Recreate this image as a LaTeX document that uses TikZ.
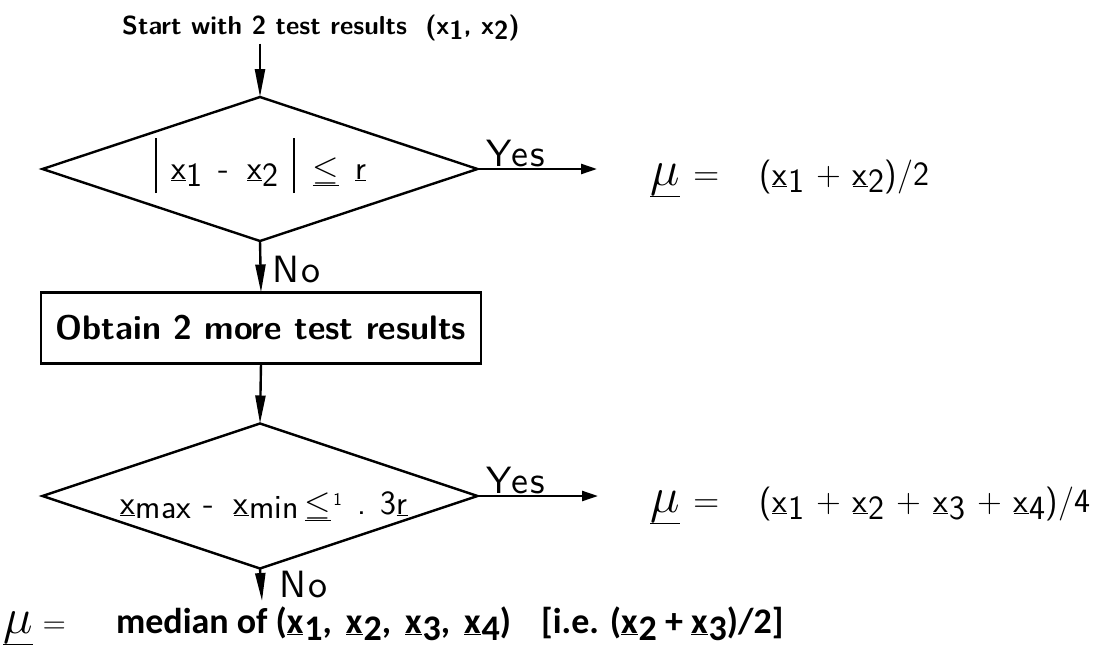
\RequirePackage{fix-cm}
\documentclass[tikz,border=0pt]{standalone}
\usepackage{fontspec}
\newfontfamily\carl{Carlito}
\newfontfamily\yesfam{lmsans10-regular.otf}[LetterSpace=6]
\usetikzlibrary{arrows.meta,shapes.geometric}
\newcommand\thinfont{\fontsize{34}{38}\selectfont\sffamily}
\newcommand\yesfont{\fontsize{38}{42}\selectfont\yesfam}
\newcommand\titlefont{\fontsize{26}{30}\selectfont\sffamily\bfseries}
\newcommand\boxfont{\fontsize{34}{40}\selectfont\sffamily\bfseries}
\newcommand\botfont{\fontsize{36}{40}\selectfont\carl\bfseries}
\newcommand\ux[1]{\underline{x}\kern1pt\raisebox{-7pt}{#1}}
\newcommand\vbar{\raisebox{-14pt}{\rule{1.8pt}{55pt}}}
\newcommand\umu{{\fontsize{50}{54}\selectfont$\underline{\mu}$}}
\newcommand\beq{{\fontsize{36}{40}\selectfont=}}
\newcommand\pl{\hspace{12pt}+\hspace{12pt}}
\begin{document}
\begin{tikzpicture}[x=1pt,y=-1pt,
  base/.style={line width=2.4pt},
  arr/.style={base,-{Triangle[length=28pt,width=10pt]}},
  yarr/.style={base,-{Triangle[length=16pt,width=10pt]}},
  dec/.style={diamond,draw,base,minimum width=435pt,minimum height=144pt,inner sep=0pt,outer sep=0pt},
  lbl/.style={font=\yesfont,inner sep=1pt},
  txt/.style={font=\thinfont,inner sep=0pt}]
\useasboundingbox (0,0) rectangle (1095,651);
\node[anchor=base west,font=\titlefont,inner sep=3pt] (title) at (119,34)
  {Start with 2 test results\hspace{0.7em}(x\raisebox{-5pt}{1}, x\raisebox{-5pt}{2})};
\node[dec] (d1) at (260,169) {};
\node[txt,anchor=base west] (t1) at (155,179)
  {\vbar\hspace{14pt}\ux{1}\hspace{16pt}-\hspace{18pt}\ux{2}\hspace{14pt}\vbar\hspace{18pt}$\underline{\leq}$\hspace{16pt}\underline{r}};
\node[draw,base,minimum width=440pt,minimum height=71pt,font=\boxfont,outer sep=0pt] (box) at (261,328) {Obtain 2 more test results};
\node[dec,minimum height=145pt] (d2) at (260,496) {};
\node[txt,anchor=base west] (t2) at (120,514)
  {\underline{x}\kern1pt\raisebox{-4pt}{max}\hspace{12pt}-\hspace{20pt}\underline{x}\kern1pt\raisebox{-4pt}{min}\hspace{6pt}$\underline{\leq}$\hspace{2pt}\raisebox{9pt}{\fontsize{18}{18}\selectfont 1}\hspace{16pt}.\hspace{14pt}3\underline{r}};
\coordinate (y1) at (597,169);
\coordinate (y2) at (598,496);
\coordinate (n2) at (262,601);
\node[txt,anchor=base west] (r1) at (650,185)
  {\umu\hspace{14pt}\beq\hspace{40pt}(\ux{1}\pl\ux{2})/2};
\node[txt,anchor=base west] (r2) at (650,512)
  {\umu\hspace{14pt}\beq\hspace{40pt}(\ux{1}\pl\ux{2}\pl\ux{3}\pl\ux{4})/4};
\node[anchor=base west,inner sep=0pt] (r3) at (3,633)
  {{\thinfont\umu\hspace{10pt}{\fontsize{32}{36}\selectfont=}}\hspace{50pt}{\botfont median of (\ux{1},\hspace{14pt}\ux{2},\hspace{14pt}\ux{3},\hspace{14pt}\ux{4})\hspace{30pt}[i.e. (\ux{2} + \ux{3})/2]}};
\draw[arr] (title.south -| d1.north) -- (d1.north);
\draw[yarr] (d1.east) -- (y1) node[lbl,pos=0.32,above] {Yes};
\draw[arr] (d1.south) -- (box.north) node[lbl,pos=0.55,right,xshift=10pt] {No};
\draw[arr] (box.south) -- (d2.north);
\draw[yarr] (d2.east) -- (y2) node[lbl,pos=0.32,above] {Yes};
\draw[arr] (d2.south) -- (n2) node[lbl,pos=0.5,right,xshift=16pt] {No};
\end{tikzpicture}
\end{document}
